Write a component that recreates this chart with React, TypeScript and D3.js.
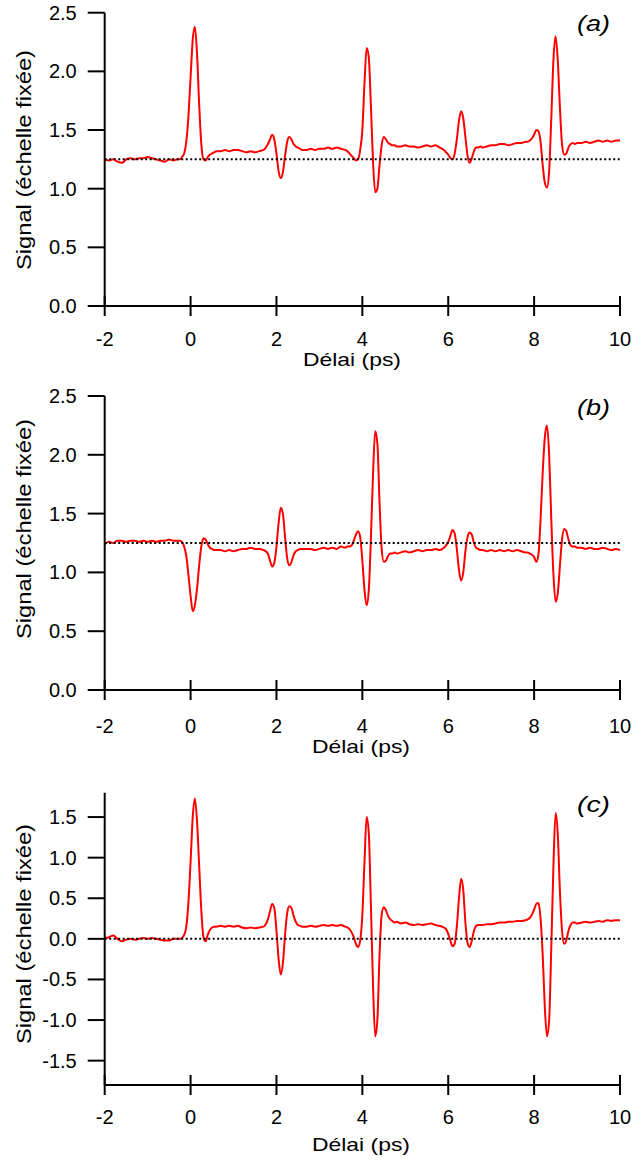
import React from 'react';
import * as d3 from 'd3';

// Shared delay grid (ps)
const delay = [
  -2.0, -1.9, -1.8, -1.7, -1.6, -1.5, -1.4, -1.3, -1.2, -1.1, -1.0, -0.9, -0.8, -0.7, -0.6, -0.5, -0.4, -0.3,
  -0.25, -0.2, -0.15, -0.1, -0.05, 0, 0.05, 0.1, 0.15, 0.2, 0.25, 0.3, 0.35, 0.4, 0.45, 0.5, 0.55, 0.6,
  0.7, 0.8, 0.9, 1.0, 1.1, 1.2, 1.3, 1.4, 1.5, 1.6, 1.7,
  1.75, 1.8, 1.85, 1.9, 1.95, 2.0, 2.05, 2.1, 2.15, 2.2, 2.25, 2.3, 2.35, 2.4, 2.45, 2.5, 2.55, 2.6,
  2.7, 2.8, 2.9, 3.0, 3.1, 3.2, 3.3, 3.4, 3.5, 3.6,
  3.65, 3.7, 3.75, 3.8, 3.85, 3.9, 3.95, 4.0, 4.05, 4.1, 4.15, 4.2, 4.25, 4.3, 4.35, 4.4, 4.45, 4.5, 4.55, 4.6, 4.65, 4.7, 4.75,
  4.8, 4.9, 5.0, 5.1, 5.2, 5.3, 5.4, 5.5, 5.6, 5.7, 5.8, 5.9,
  5.95, 6.0, 6.05, 6.1, 6.15, 6.2, 6.25, 6.3, 6.35, 6.4, 6.45, 6.5, 6.55, 6.6, 6.65, 6.7, 6.75,
  6.8, 6.9, 7.0, 7.1, 7.2, 7.3, 7.4, 7.5, 7.6, 7.7, 7.8,
  7.85, 7.9, 7.95, 8.0, 8.05, 8.1, 8.15, 8.2, 8.25, 8.3, 8.35, 8.4, 8.45, 8.5, 8.55, 8.6, 8.65, 8.7, 8.75, 8.8, 8.85, 8.9, 8.95, 9.0,
  9.1, 9.2, 9.3, 9.4, 9.5, 9.6, 9.7, 9.8, 9.9, 10.0,
];

const signalA = [
  1.25, 1.24, 1.25, 1.23, 1.22, 1.25, 1.26, 1.25, 1.26, 1.26, 1.27, 1.26, 1.25, 1.24, 1.23, 1.25, 1.24, 1.25,
  1.25, 1.27, 1.30, 1.40, 1.62, 1.95, 2.27, 2.38, 2.15, 1.72, 1.38, 1.25, 1.24, 1.27, 1.29, 1.30, 1.31, 1.32,
  1.32, 1.33, 1.32, 1.33, 1.33, 1.32, 1.31, 1.32, 1.31, 1.32, 1.33,
  1.35, 1.38, 1.42, 1.46, 1.42, 1.30, 1.15, 1.09, 1.14, 1.28, 1.40, 1.44, 1.42, 1.38, 1.36, 1.35, 1.34, 1.33,
  1.33, 1.34, 1.33, 1.34, 1.34, 1.35, 1.34, 1.35, 1.34, 1.33,
  1.32, 1.30, 1.28, 1.26, 1.24, 1.25, 1.33, 1.50, 1.90, 2.20, 2.12, 1.70, 1.22, 0.97, 1.00, 1.20, 1.37, 1.44, 1.42, 1.39, 1.38, 1.37, 1.37,
  1.36, 1.36, 1.37, 1.36, 1.36, 1.35, 1.36, 1.37, 1.36, 1.37, 1.35, 1.33,
  1.31, 1.29, 1.26, 1.25, 1.30, 1.42, 1.58, 1.66, 1.60, 1.44, 1.28, 1.22, 1.26, 1.32, 1.35, 1.35, 1.36,
  1.35, 1.36, 1.37, 1.37, 1.38, 1.38, 1.37, 1.38, 1.39, 1.39, 1.40,
  1.40, 1.41, 1.43, 1.46, 1.50, 1.49, 1.40, 1.20, 1.05, 1.01, 1.15, 1.60, 2.10, 2.30, 2.10, 1.70, 1.38, 1.29, 1.30, 1.35, 1.38, 1.39, 1.38, 1.39,
  1.39, 1.40, 1.39, 1.40, 1.41, 1.40, 1.41, 1.40, 1.41, 1.41,
];

const signalB = [
  1.24, 1.26, 1.25, 1.27, 1.27, 1.26, 1.27, 1.27, 1.26, 1.27, 1.26, 1.27, 1.26, 1.27, 1.27, 1.28, 1.27, 1.27,
  1.27, 1.26, 1.22, 1.14, 0.98, 0.80, 0.67, 0.72, 0.86, 1.06, 1.22, 1.29, 1.28, 1.24, 1.21, 1.20, 1.19, 1.19,
  1.19, 1.18, 1.19, 1.18, 1.19, 1.20, 1.20, 1.21, 1.20, 1.20, 1.19,
  1.18, 1.16, 1.10, 1.05, 1.08, 1.22, 1.42, 1.55, 1.50, 1.30, 1.12, 1.06, 1.09, 1.15, 1.18, 1.19, 1.20, 1.20,
  1.20, 1.20, 1.19, 1.20, 1.21, 1.20, 1.21, 1.20, 1.22, 1.21,
  1.22, 1.22, 1.23, 1.27, 1.32, 1.35, 1.30, 1.10, 0.85, 0.72, 0.85, 1.30, 1.85, 2.20, 2.10, 1.60, 1.20, 1.09, 1.10, 1.14, 1.16, 1.16, 1.17,
  1.16, 1.17, 1.18, 1.17, 1.18, 1.19, 1.18, 1.19, 1.19, 1.20, 1.19, 1.21,
  1.23, 1.26, 1.31, 1.36, 1.33, 1.20, 1.02, 0.93, 1.00, 1.18, 1.30, 1.34, 1.32, 1.25, 1.21, 1.20, 1.19,
  1.19, 1.18, 1.19, 1.18, 1.19, 1.18, 1.19, 1.18, 1.19, 1.18, 1.17,
  1.17, 1.16, 1.15, 1.13, 1.09, 1.15, 1.45, 1.85, 2.15, 2.25, 2.00, 1.45, 0.98, 0.75, 0.82, 1.05, 1.28, 1.37, 1.35, 1.28, 1.23, 1.22, 1.22, 1.21,
  1.21, 1.20, 1.21, 1.20, 1.20, 1.21, 1.20, 1.19, 1.20, 1.19,
];

const signalC = [
  0.01, 0.02, 0.04, 0.00, -0.03, -0.01, 0.00, -0.01, 0.00, 0.01, 0.00, 0.01, 0.00, -0.01, -0.02, -0.02, 0.00, 0.00,
  0.00, 0.01, 0.05, 0.15, 0.45, 0.95, 1.50, 1.73, 1.45, 0.90, 0.35, 0.02, -0.03, 0.05, 0.11, 0.14, 0.15, 0.15,
  0.16, 0.15, 0.16, 0.15, 0.16, 0.14, 0.13, 0.14, 0.13, 0.14, 0.15,
  0.18, 0.24, 0.34, 0.43, 0.38, 0.10, -0.25, -0.44, -0.30, 0.05, 0.32, 0.40, 0.38, 0.28, 0.21, 0.17, 0.16, 0.15,
  0.15, 0.16, 0.15, 0.16, 0.17, 0.16, 0.17, 0.16, 0.17, 0.15,
  0.14, 0.12, 0.08, 0.02, -0.06, -0.10, -0.02, 0.30, 0.95, 1.50, 1.30, 0.40, -0.60, -1.20, -1.00, -0.20, 0.30, 0.39, 0.35, 0.28, 0.24, 0.22, 0.20,
  0.21, 0.19, 0.20, 0.18, 0.17, 0.18, 0.17, 0.18, 0.19, 0.17, 0.16, 0.14,
  0.12, 0.06, -0.02, -0.09, -0.06, 0.15, 0.50, 0.74, 0.60, 0.20, -0.05, -0.10, -0.02, 0.10, 0.16, 0.17, 0.17,
  0.17, 0.18, 0.18, 0.19, 0.20, 0.20, 0.21, 0.21, 0.22, 0.22, 0.23,
  0.24, 0.26, 0.30, 0.36, 0.43, 0.44, 0.25, -0.20, -0.85, -1.20, -1.00, -0.10, 0.90, 1.55, 1.30, 0.60, 0.10, -0.06, -0.02, 0.10, 0.17, 0.20, 0.20, 0.19,
  0.20, 0.21, 0.20, 0.21, 0.22, 0.21, 0.23, 0.22, 0.23, 0.23,
];

const xTicks = [-2, 0, 2, 4, 6, 8, 10];
const yTicksAB = [0, 0.5, 1.0, 1.5, 2.0, 2.5];
const yTicksC = [-1.5, -1.0, -0.5, 0, 0.5, 1.0, 1.5];
const panelNames = ['(a)', '(b)', '(c)'];
const referenceLevels = [1.25, 1.25, 0];
const xTitle = 'Délai (ps)';
const yTitle = 'Signal (échelle fixée)';

const FONT = '"Liberation Sans", Arial, Helvetica, sans-serif';
const X0 = 104.7;
const X1 = 620;

const panels = [
  { values: signalA, domain: [0, 2.5], ticks: yTicksAB, top: 12.7, bottom: 306, tickBase: 346, titleBase: 366, titleX: 352, yTitleC: 160, labelBase: 31 },
  { values: signalB, domain: [0, 2.5], ticks: yTicksAB, top: 396, bottom: 690, tickBase: 733, titleBase: 753, titleX: 361, yTitleC: 529, labelBase: 415 },
  { values: signalC, domain: [-1.8, 1.8], ticks: yTicksC, top: 792.7, bottom: 1085, tickBase: 1124, titleBase: 1151, titleX: 361, yTitleC: 934, labelBase: 812 },
];

function Panel({ p, idx }: { p: any; idx: number }) {
  const x = d3.scaleLinear().domain([-2, 10]).range([X0, X1]);
  const y = d3.scaleLinear().domain(p.domain).range([p.bottom, p.top]);
  const line = d3
    .line<number>()
    .x((_, i) => x(delay[i]))
    .y((d) => y(d))
    .curve(d3.curveMonotoneX);
  const ref = referenceLevels[idx];
  return (
    <g>
      <path d={line(p.values) || ''} fill="none" stroke="#ff0000" strokeWidth={2} strokeLinejoin="round" />
      <line x1={x(-2)} x2={x(10)} y1={y(ref)} y2={y(ref)} stroke="#000" strokeWidth={2} strokeDasharray="2,2.5" />
      <line x1={X0} x2={X0} y1={p.top} y2={p.bottom} stroke="#000" strokeWidth={2} />
      <line x1={X0} x2={X1} y1={p.bottom} y2={p.bottom} stroke="#000" strokeWidth={2} />
      {p.ticks.map((t: number) => (
        <g key={'y' + t}>
          <line x1={X0 - 17} x2={X0} y1={y(t)} y2={y(t)} stroke="#000" strokeWidth={2} />
          <text x={X0 - 28} y={y(t) + 7} textAnchor="end" fontSize={20} fontFamily={FONT} fill="#000">
            {t.toFixed(1)}
          </text>
        </g>
      ))}
      {xTicks.map((t) => (
        <g key={'x' + t}>
          <line x1={x(t)} x2={x(t)} y1={p.bottom - 10} y2={p.bottom + 10} stroke="#000" strokeWidth={2} />
          <text x={x(t)} y={p.tickBase} textAnchor="middle" fontSize={20} fontFamily={FONT} fill="#000">
            {String(t)}
          </text>
        </g>
      ))}
      <text x={p.titleX} y={p.titleBase} textAnchor="middle" fontSize={19} fontFamily={FONT} fill="#000" textLength={98} lengthAdjust="spacingAndGlyphs">
        {xTitle}
      </text>
      <text
        transform={`translate(31,${p.yTitleC}) rotate(-90)`}
        textAnchor="middle"
        fontSize={21}
        fontFamily={FONT}
        fill="#000"
        textLength={220}
        lengthAdjust="spacingAndGlyphs"
      >
        {yTitle}
      </text>
      <text x={577} y={p.labelBase} fontSize={22} fontStyle="italic" fontFamily={FONT} fill="#000" textLength={33} lengthAdjust="spacingAndGlyphs">
        {panelNames[idx]}
      </text>
    </g>
  );
}

export default function App() {
  return (
    <svg width={635} height={1166} style={{ position: 'absolute', left: 0, top: 0, background: '#fff' }}>
      <rect width={635} height={1166} fill="#fff" />
      {panels.map((p, i) => (
        <Panel key={i} p={p} idx={i} />
      ))}
    </svg>
  );
}
